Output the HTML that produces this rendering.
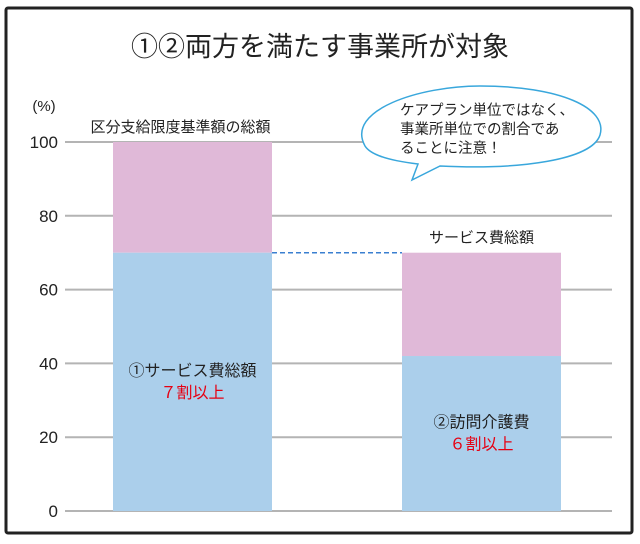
<!DOCTYPE html>
<html><head><meta charset="utf-8"><style>
body{margin:0;background:#fff;}
svg text{font-family:"Liberation Sans","Noto Sans CJK JP",sans-serif;}
</style></head><body>
<svg width="640" height="539" viewBox="0 0 640 539">
<rect x="6" y="8" width="626" height="525" fill="#fff" stroke="#222" stroke-width="3" rx="2"/>
<text x="320" y="56" font-size="27" text-anchor="middle" fill="#222">①②両方を満たす事業所が対象</text>
<text x="44" y="111" font-size="15" text-anchor="middle" fill="#222">(%)</text>
<g id="grid"></g>
<g id="bars"></g>
<g id="labels"></g>
<path d="M365,146 C345,110 420,86 480,86 C560,86 608,108 600,135 C592,160 520,170 440,166 L412,180 L418,164 C385,160 370,154 365,146 Z" fill="#fff" stroke="#39a7dc" stroke-width="1.5"/>
<text font-size="14.5" fill="#222">
<tspan x="400" y="115">ケアプラン単位ではなく、</tspan>
<tspan x="400" y="134">事業所単位での割合であ</tspan>
<tspan x="400" y="153">ることに注意！</tspan></text>
<script>
const ticks=[0,20,40,60,80,100];
const categories=["bar1","bar2"];
const blueValues=[70,42];
const totalValues=[100,70];
const topLabels=["区分支給限度基準額の総額","サービス費総額"];
const innerLabels=["①サービス費総額","②訪問介護費"];
const innerPct=["７割以上","６割以上"];
const y=v=>511-v*3.69;
const barX=[113,402], barW=159;
const NS="http://www.w3.org/2000/svg";
function mk(t,a,p){const e=document.createElementNS(NS,t);for(const k in a)e.setAttribute(k,a[k]);p.appendChild(e);return e;}
const G=document.getElementById('grid'),B=document.getElementById('bars'),L=document.getElementById('labels');
ticks.forEach(t=>{
 const l=mk('line',{x1:65,x2:612,y1:y(t),y2:y(t),stroke:'#b4b4b4','stroke-width':2},G);
 
 
 const tx=mk('text',{x:58,y:y(t)+6,'font-size':17,'text-anchor':'end',fill:'#222'},G);
 tx.textContent=t;
 
 
});
categories.forEach((c,i)=>{
 const x=barX[i];
 const p=mk('rect',{x:x,y:y(totalValues[i]),width:barW,height:y(blueValues[i])-y(totalValues[i]),fill:'#e0b9d8'},B);
 
 
 const b=mk('rect',{x:x,y:y(blueValues[i]),width:barW,height:y(0)-y(blueValues[i]),fill:'#abcfeb'},B);
 
 
 const t=mk('text',{x:x+barW/2+(i?0:-12),y:y(totalValues[i])-10,'font-size':15,'text-anchor':'middle',fill:'#222'},L);
 t.textContent=topLabels[i];
 
 
 const mid=(y(blueValues[i])+y(0))/2-6;
 const a=mk('text',{x:x+barW/2,y:mid,'font-size':16,'text-anchor':'middle',fill:'#222'},L);
 a.textContent=innerLabels[i];
 
 
 const r=mk('text',{x:x+barW/2,y:mid+22,'font-size':16,'text-anchor':'middle',fill:'#e60012'},L);
 r.textContent=innerPct[i];
 
 
});
const d=mk('line',{x1:barX[0]+barW,x2:barX[1],y1:y(blueValues[0]),y2:y(blueValues[0]),stroke:'#3a7fd0','stroke-width':1.5,'stroke-dasharray':'5,3'},L);


</script>
</svg>
</body></html>
